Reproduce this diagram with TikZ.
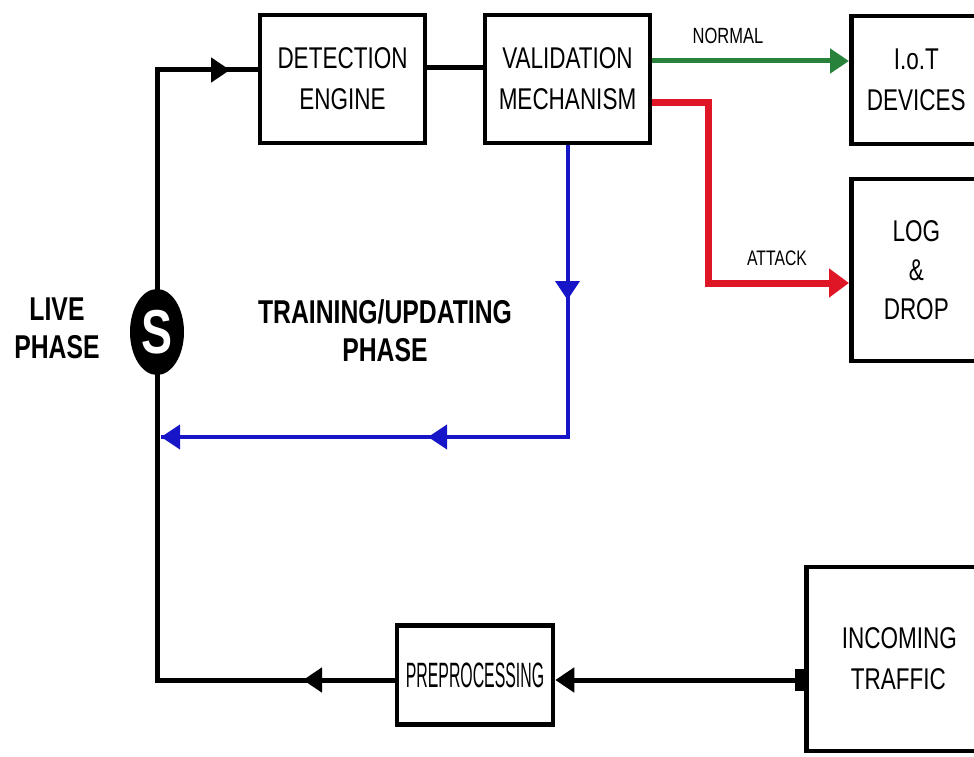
\documentclass[tikz,border=0pt]{standalone}
\usepackage{fontspec}
\setmainfont{Liberation Sans}[FakeStretch=0.75]
\usetikzlibrary{arrows.meta,shapes.geometric}
\definecolor{grn}{RGB}{40,130,60}
\definecolor{rd}{RGB}{222,22,38}
\definecolor{blu}{RGB}{22,22,200}
\begin{document}
\begin{tikzpicture}[x=1pt,y=-1pt,
  box/.style={draw=black, line width=4.5pt, fill=white, inner sep=0pt, align=center,
    font=\fontsize{30}{41}\selectfont},
  wire/.style={line width=5pt, line join=miter},
  tip/.style={-{Triangle[length=19pt,width=24pt]}},
  lbl/.style={font=\fontsize{22}{24}\selectfont, inner sep=0pt},
  phase/.style={font=\bfseries\fontsize{33}{38}\selectfont, align=center, inner sep=0pt}]
\useasboundingbox (0,0) rectangle (974,757);
\clip (0,0) rectangle (974,757);

% boxes
\node[box, minimum width=165, minimum height=128] (det) at (342.5,79) {DETECTION\\ENGINE};
\node[box, minimum width=165, minimum height=128] (val) at (567.5,79) {VALIDATION\\MECHANISM};
\node[box, minimum width=136, minimum height=128, anchor=west] (iot) at (849,80) {\hspace*{-6pt}I.o.T\\\hspace*{-6pt}DEVICES};
\node[box, minimum width=136, minimum height=182, anchor=west, font=\fontsize{30}{39}\selectfont] (log) at (849,270) {\hspace*{-6pt}LOG\\\hspace*{-6pt}\&\\\hspace*{-6pt}DROP};
\node[box, minimum width=156, minimum height=99, font=\fontsize{32}{36}\selectfont] (pre) at (475,675) {\scalebox{0.66}[1.1]{PREPROCESSING}};
\node[box, minimum width=186, minimum height=184, anchor=west] (inc) at (804,659) {INCOMING\\TRAFFIC\hspace*{2pt}};

% coordinates
\coordinate (tl) at (157,70);
\coordinate (bl) at (157,680);
\coordinate (ta) at (230,70);
\coordinate (ba) at (303,680);
\coordinate (dv) at (0,68);
\coordinate (gy) at (0,61);
\coordinate (r0) at (0,103);
\coordinate (r1) at (708,103);
\coordinate (r2) at (708,283);
\coordinate (b0) at (567.5,300);
\coordinate (b1) at (567.5,437);
\coordinate (b2) at (428,437);
\coordinate (b3) at (161,437);

% black loop
\draw[wire] (pre.west |- bl) -- (bl) -- (tl) -- (det.west |- tl);
\draw[wire, tip] (tl) -- (ta);
\draw[wire, tip] (pre.west |- bl) -- (ba);
\draw[wire] (det.east |- dv) -- (val.west |- dv);
\draw[wire, {Square[length=9pt,width=22pt]}-{Triangle[length=19pt,width=24pt]}] (inc.west |- bl) -- (pre.east |- bl);

% green / red
\draw[line width=5pt, grn, tip] (val.east |- gy) -- (iot.west |- gy);
\draw[line width=7pt, rd, -{Triangle[length=20pt,width=28pt]}] (val.east |- r0) -- (r1) -- (r2) -- (log.west |- r2);
\node[lbl] (normal) at (728,36) {NORMAL};
\node[lbl, font=\fontsize{21}{24}\selectfont] (attack) at (777,258) {ATTACK};

% blue
\draw[line width=4pt, blu] (val.south) -- (b1) -- (b3);
\draw[line width=4pt, blu, tip] (val.south) -- (b0);
\draw[line width=4pt, blu, tip] (b1) -- (b2);
\draw[line width=4pt, blu, tip] (b2) -- (b3);

% switch
\node[ellipse, fill=black, minimum width=54, minimum height=86, inner sep=0pt] (sw) at (157,332)
  {\color{white}\bfseries\fontsize{62}{62}\selectfont S};

% phase labels
\node[phase] (live) at (57,328) {LIVE\\PHASE};
\node[phase] (train) at (385,331) {TRAINING/UPDATING\\PHASE};
\end{tikzpicture}
\end{document}
